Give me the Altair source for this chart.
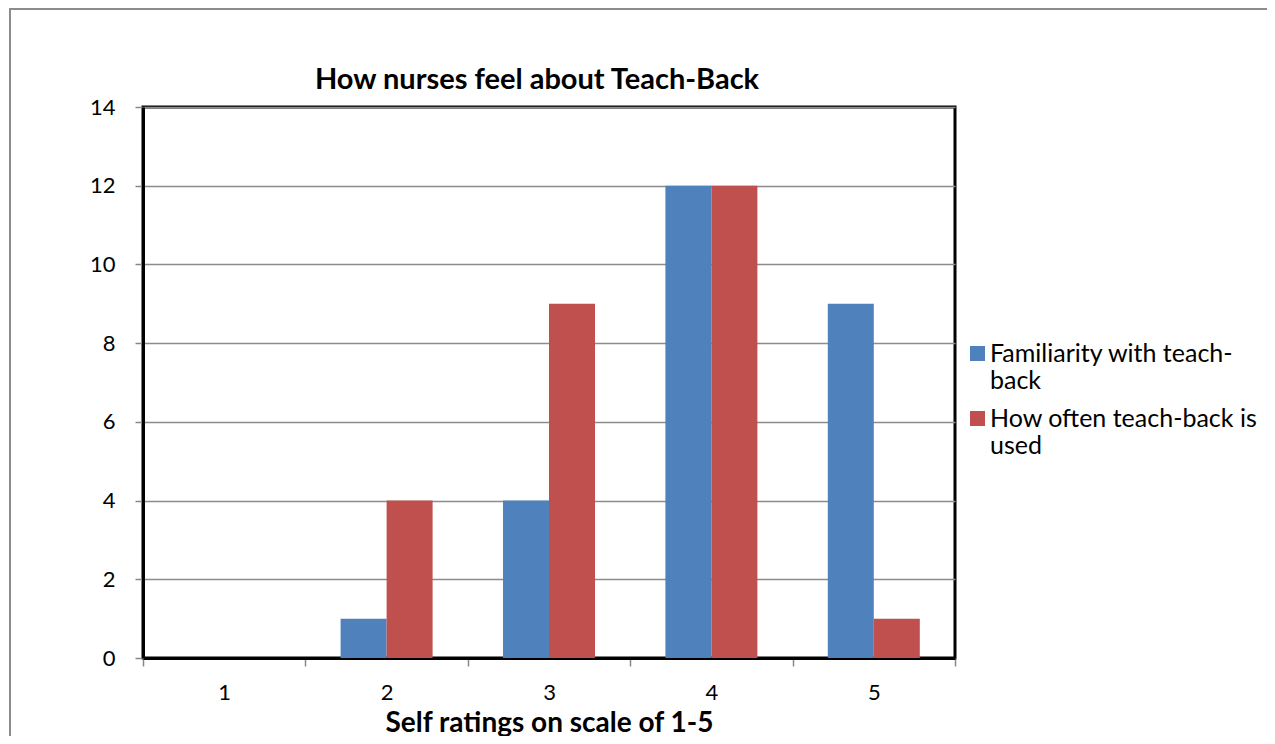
import altair as alt
import pandas as pd

ratings = ["1", "2", "3", "4", "5"]
familiarity = [0, 1, 4, 12, 9]
how_often = [0, 4, 9, 12, 1]
series_names = ["Familiarity with teach-back", "How often teach-back is used"]
series_colors = ["#4F81BD", "#C0504D"]
chart_title = "How nurses feel about Teach-Back"
x_title = "Self ratings on scale of 1-5"

rows = []
for r, a, b in zip(ratings, familiarity, how_often):
    rows.append({"rating": r, "series": series_names[0], "value": a})
    rows.append({"rating": r, "series": series_names[1], "value": b})
df = pd.DataFrame(rows)
title_df = pd.DataFrame({"t": [chart_title]})

FONT = "Lato"

bars = alt.Chart(df).mark_bar().encode(
    x=alt.X("rating:N", title=x_title,
            scale=alt.Scale(paddingInner=0, paddingOuter=0),
            axis=alt.Axis(labelAngle=0, tickBand="extent", labelFontSize=22,
                          labelFont=FONT, labelColor="black", labelPadding=16,
                          tickColor="#888888", tickSize=8, tickWidth=1.5,
                          domainColor="black", domainWidth=3,
                          titleFontSize=28, titleFont=FONT, titleFontWeight="bold",
                          titleColor="black", titleBaseline="alphabetic", titleY=73,
                          grid=False)),
    xOffset=alt.XOffset("series:N", sort=series_names,
                        scale=alt.Scale(paddingInner=0, paddingOuter=0.765)),
    y=alt.Y("value:Q", title=None,
            scale=alt.Scale(domain=[0, 14], nice=False),
            axis=alt.Axis(values=[0, 2, 4, 6, 8, 10, 12, 14], labelFontSize=22,
                          labelFont=FONT, labelColor="black", labelPadding=20,
                          tickColor="#888888", tickSize=8, tickWidth=1.5,
                          domainColor="black", domainWidth=3,
                          grid=True, gridColor="#8c8c8c", gridWidth=1.5)),
    color=alt.Color("series:N", sort=series_names,
                    scale=alt.Scale(domain=series_names, range=series_colors),
                    legend=alt.Legend(title=None, orient="none", legendX=822, legendY=234,
                                      labelFont=FONT, labelFontSize=25, labelColor="black",
                                      symbolType="square", symbolSize=225,
                                      symbolStrokeWidth=0, rowPadding=12,
                                      labelLimit=400, labelBaseline="middle",
                                      labelOffset=0,
                                      labelExpr="datum.label == 'Familiarity with teach-back' ? ['Familiarity with teach-', 'back'] : ['How often teach-back is', 'used']")),
)

title_mark = alt.Chart(title_df).mark_text(
    font=FONT, fontSize=29, fontWeight="bold", color="black", align="center", baseline="middle"
).encode(text="t:N", x=alt.value(394), y=alt.value(-27))

frame = alt.Chart(title_df).mark_rect(fill=None, stroke="#8c8c8c", strokeWidth=2).encode(
    x=alt.value(-133), x2=alt.value(1400), y=alt.value(-98), y2=alt.value(900)
)

chart = alt.layer(frame, bars, title_mark).properties(
    width=812, height=551,
    autosize=alt.AutoSizeParams(type="none"),
    padding={"left": 135, "top": 99, "right": 312, "bottom": 78},
    background="white",
).configure_view(stroke="black", strokeWidth=3)

chart.save("out.html", embed_options={"renderer": "svg", "actions": False})
